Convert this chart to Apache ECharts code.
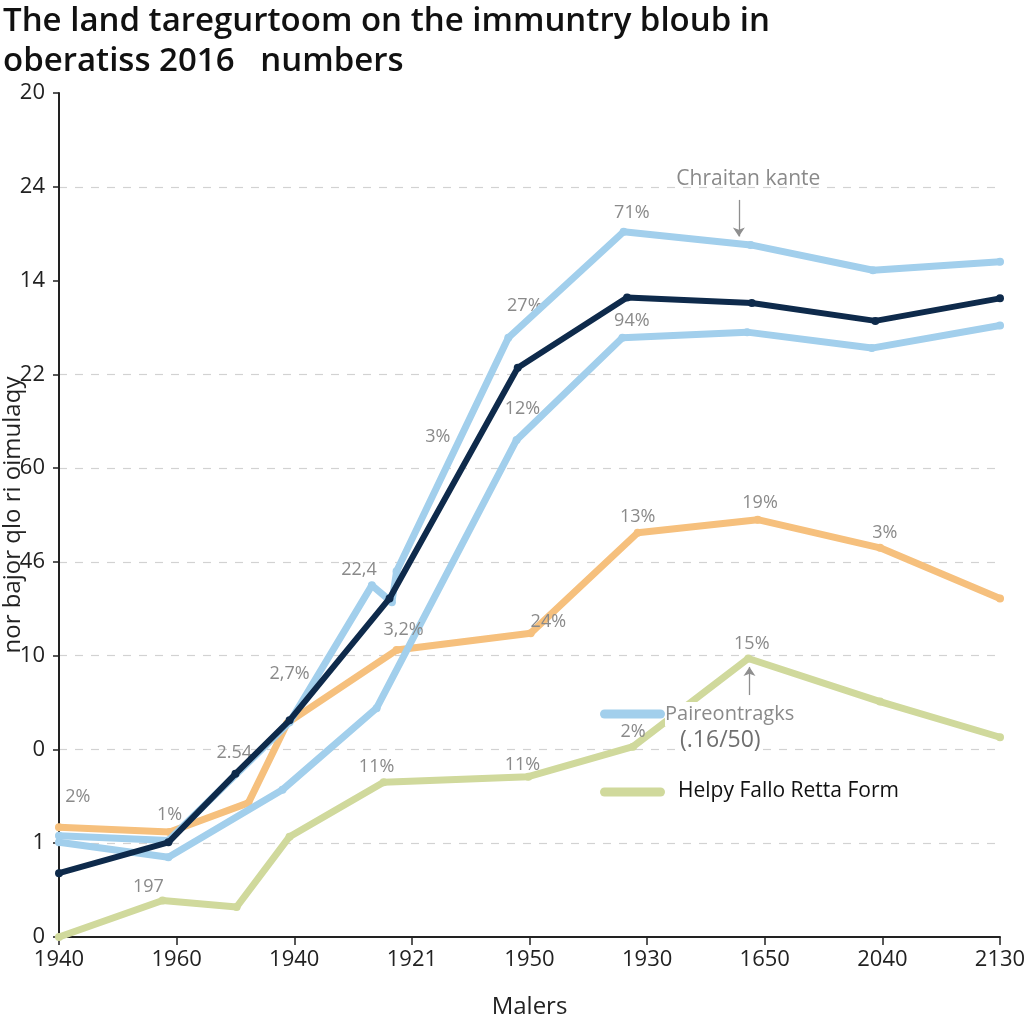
<!DOCTYPE html>
<html><head><meta charset="utf-8">
<script src="https://cdn.jsdelivr.net/npm/echarts@6/dist/echarts.min.js"></script>
<style>html,body{margin:0;padding:0;background:#fff}#c{width:1024px;height:1024px}</style>
</head><body><div id="c"></div>
<script>
// ---- data ----
const xTickLabels = ['1940','1960','1940','1921','1950','1930','1650','2040','2130'];
const yTickLabels = ['0','1','0','10','46','60','22','14','24','20'];
const navyValues = [[0,0.68],[0.93,1.01],[1.50,1.74],[1.96,2.31],[2.81,3.61],[3.90,6.07],[4.83,6.82],[5.89,6.76],[6.94,6.57],[8,6.81]];
const blueUpperValues = [[0,1.08],[0.93,1.03],[1.96,2.29],[2.66,3.75],[2.83,3.57],[2.87,3.90],[3.82,6.39],[4.80,7.52],[5.88,7.38],[6.92,7.11],[8,7.20]];
const blueLowerValues = [[0,1.01],[0.93,0.85],[1.90,1.57],[2.70,2.44],[3.89,5.30],[4.79,6.39],[5.85,6.45],[6.91,6.28],[8,6.52]];
const orangeValues = [[0,1.17],[0.94,1.12],[1.61,1.43],[1.94,2.28],[2.87,3.06],[4.01,3.24],[4.92,4.31],[5.94,4.45],[6.98,4.15],[8,3.61]];
const greenValues = [[0,0],[0.88,0.39],[1.51,0.32],[1.96,1.07],[2.76,1.65],[3.99,1.71],[4.88,2.03],[5.86,2.97],[6.98,2.51],[8,2.13]];
const pointLabels = [
  ['2%',0.16,1.49],['1%',0.94,1.30],['197',0.76,0.53],['2.54',1.49,1.96],['2,7%',1.96,2.81],
  ['22,4',2.55,3.91],['3,2%',2.93,3.27],['3%',3.22,5.33],['27%',3.96,6.73],['12%',3.94,5.63],
  ['11%',2.70,1.81],['11%',3.94,1.84],['24%',4.16,3.36],['71%',4.87,7.72],['94%',4.87,6.57],
  ['13%',4.92,4.48],['19%',5.96,4.63],['3%',7.02,4.31],['6%',8.11,3.73],['1%',8.11,7.36],
  ['3%',8.11,6.65],['15%',5.89,3.13],['2%',4.88,2.19],['4%',8.11,2.24]
];
const boldLabel = ['34%',8.03,6.98];
const noteLabel = ['Chraitan kante',5.86,8.08];
const arrows = [[[5.78,7.86],[5.78,7.47]],[[5.87,2.58],[5.87,2.88]]];

const titleText = 'The land taregurtoom on the immuntry bloub in\noberatiss 2016   numbers';
const xName = 'Malers';
const yName = 'nor bajor qlo ri oimulaqy';
const legendNames = ['Paireontragks', '(.16/50)', 'Helpy Fallo Retta Form'];

// ---- styles ----
const C = {blue:'#a2cfec', navy:'#0e2a4b', orange:'#f6c07d', green:'#d0d99c'};
const FONT = "'Open Sans', 'Noto Sans', sans-serif";

function lineSeries(data, color, width, z){
  return {type:'line', data, z, symbol:'circle', symbolSize:8, showSymbol:true,
    lineStyle:{color, width, cap:'round', join:'round'},
    itemStyle:{color, borderWidth:0}, emphasis:{disabled:true}, animation:false};
}

const chart = echarts.init(document.getElementById('c'), null, {renderer:'canvas'});
chart.setOption({
  backgroundColor:'#fff',
  animation:false,
  title:{text:titleText, left:-2, top:-3,
    textStyle:{fontFamily:FONT, fontSize:33, fontWeight:600, color:'#111', lineHeight:40}},
  grid:{left:59, right:24, top:93, bottom:87, containLabel:false, outerBoundsMode:'none'},
  xAxis:{type:'value', min:0, max:8, interval:1,
    name:xName, nameLocation:'middle', nameGap:58, nameMoveOverlap:false,
    nameTextStyle:{fontFamily:FONT, fontSize:24, color:'#222'},
    axisLine:{lineStyle:{color:'#222', width:2}},
    axisTick:{show:true, length:8, lineStyle:{color:'#222', width:1.5}},
    axisLabel:{fontFamily:FONT, fontSize:22, color:'#222', margin:12,
      formatter:v=>xTickLabels[Math.round(v)] ?? ''},
    splitLine:{show:false}},
  yAxis:{type:'value', min:0, max:9, interval:1,
    name:yName, nameLocation:'middle', nameGap:34, nameRotate:90, nameMoveOverlap:false,
    nameTextStyle:{fontFamily:FONT, fontSize:24, color:'#222'},
    axisLine:{show:true, lineStyle:{color:'#222', width:2}},
    axisTick:{show:true, length:6, lineStyle:{color:'#222', width:1.5}},
    axisLabel:{fontFamily:FONT, fontSize:22, color:'#222', margin:14,
      formatter:v=>yTickLabels[Math.round(v)] ?? ''},
    splitLine:{show:true, lineStyle:{type:[8,8], width:1.2,
      color:['rgba(0,0,0,0)','#d2d2d2','#d2d2d2','#d2d2d2','#d2d2d2','#d2d2d2','#d2d2d2','rgba(0,0,0,0)','#d2d2d2','rgba(0,0,0,0)']}}},
  series:[
    lineSeries(greenValues, C.green, 7, 2),
    lineSeries(orangeValues, C.orange, 7, 3),
    lineSeries(blueLowerValues, C.blue, 7, 4),
    lineSeries(blueUpperValues, C.blue, 7, 5),
    lineSeries(navyValues, C.navy, 6, 6),
    {type:'line', data:[], clip:false, silent:true, z:8, animation:false,
      markPoint:{symbol:'circle', symbolSize:0, animation:false,
        label:{show:true, position:'inside', formatter:'{b}', fontFamily:FONT, fontSize:18, color:'#8a8a8a'},
        data:[
          ...pointLabels.map(p=>({name:p[0], coord:[p[1],p[2]]})),
          {name:boldLabel[0], coord:[boldLabel[1],boldLabel[2]], label:{color:'#111', fontSize:20, fontWeight:600}},
          {name:noteLabel[0], coord:[noteLabel[1],noteLabel[2]], label:{color:'#8a8a8a', fontSize:21}}
        ]},
      markLine:{silent:true, symbol:['none','arrow'], symbolSize:9, animation:false,
        label:{show:false}, lineStyle:{color:'#8f8f8f', width:1.3, type:'solid'},
        data:arrows.map(a=>[{coord:a[0]},{coord:a[1]}])}
    }
  ],
  graphic:[
    {type:'rect', x:600, y:709.5, z:20, shape:{width:65, height:9, r:4.5}, style:{fill:C.blue}},
    {type:'text', x:665, y:714, z:20, style:{text:legendNames[0], fontFamily:FONT, fontSize:20, fill:'#8a8a8a',
      verticalAlign:'middle', backgroundColor:'#fff', padding:[2,0,2,0]}},
    {type:'text', x:680, y:740, z:20, style:{text:legendNames[1], fontFamily:FONT, fontSize:23, fill:'#6f6f6f',
      verticalAlign:'middle', backgroundColor:'#fff', padding:[0,0,0,0]}},
    {type:'rect', x:600, y:787.5, z:20, shape:{width:65, height:9, r:4.5}, style:{fill:C.green}},
    {type:'text', x:678, y:791, z:20, style:{text:legendNames[2], fontFamily:FONT, fontSize:21, fill:'#111',
      verticalAlign:'middle'}}
  ]
});
</script></body></html>
